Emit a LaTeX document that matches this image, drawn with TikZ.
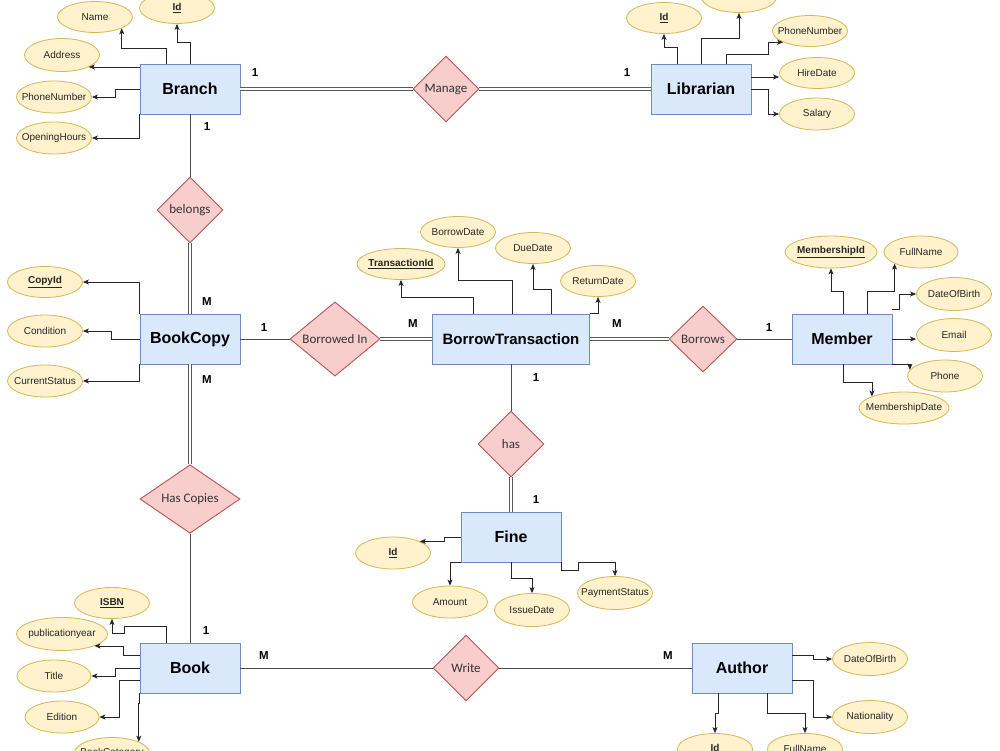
\documentclass[tikz,border=0pt]{standalone}
\usepackage{fontspec}
\setmainfont{Liberation Sans}
\newfontfamily\calfont{Carlito}
\usetikzlibrary{shapes.geometric,arrows.meta}
\definecolor{entfill}{HTML}{DAE8FC}
\definecolor{entdraw}{HTML}{6C8EBF}
\definecolor{relfill}{HTML}{F8CECC}
\definecolor{reldraw}{HTML}{B85450}
\definecolor{attfill}{HTML}{FFF2CC}
\definecolor{attdraw}{HTML}{D6B656}
\tikzset{
  entity/.style={rectangle, draw=entdraw, fill=entfill, line width=0.9pt, inner sep=0pt,
    minimum width=100pt, minimum height=50pt, font=\fontsize{16}{19}\selectfont\bfseries},
  rel/.style={diamond, draw=reldraw, fill=relfill, line width=0.9pt, inner sep=0pt,
    minimum width=66pt, minimum height=66pt, text=black!80, font=\calfont\fontsize{13}{15}\selectfont},
  attr/.style={ellipse, draw=attdraw, fill=attfill, line width=0.8pt, inner sep=0pt,
    minimum width=75pt, minimum height=31pt},
  attrtext/.style={text=black!85, inner sep=0pt, font=\fontsize{10}{12}\selectfont},
  keytext/.style={text=black!85, inner sep=0pt, font=\fontsize{10}{12}\selectfont\bfseries},
  card/.style={inner sep=0pt, font=\fontsize{11.5}{13}\selectfont\bfseries},
  single/.style={draw=black!70, line width=0.8pt},
  dbl/.style={draw=black!65, line width=0.8pt, double=white, double distance=2.2pt},
  arr/.style={draw=black!85, line width=0.8pt, -{Stealth[length=6pt,width=5pt,inset=1.5pt]}},
}
\begin{document}
\begin{tikzpicture}[x=1pt,y=-1pt]
\useasboundingbox (0,0) rectangle (1000,750);
\fill[white] (0,0) rectangle (1000,750);

% ---------- entities ----------
\node[entity] (branch) at (190,89) {Branch};
\node[entity] (lib) at (701,89) {Librarian};
\node[entity] (bc) at (190,339) {BookCopy};
\node[entity, minimum width=157pt, font=\fontsize{15}{18}\selectfont\bfseries] (bt) at (511,339) {BorrowTransaction};
\node[entity] (mem) at (842,339) {Member};
\node[entity] (fine) at (511,537) {Fine};
\node[entity] (book) at (190,668) {Book};
\node[entity] (author) at (742,668) {Author};

% ---------- relationships ----------
\node[rel] (manage) at (446,89) {Manage};
\node[rel] (belongs) at (190,210) {belongs};
\node[rel, minimum width=90pt] (borrowedin) at (335,339) {Borrowed In};
\node[rel, minimum width=68pt] (borrows) at (703,339) {Borrows};
\node[rel] (has) at (511,444) {has};
\node[rel, minimum width=100pt] (hascopies) at (190,499) {Has Copies};
\node[rel] (write) at (466,668) {Write};

% ---------- relationship lines ----------
\draw[dbl] (branch.east) -- (manage.west);
\draw[dbl] (manage.east) -- (lib.west);
\draw[single] (branch.south) -- (belongs.north);
\draw[dbl] (belongs.south) -- (bc.north);
\draw[single] (bc.east) -- (borrowedin.west);
\draw[dbl] (borrowedin.east) -- (bt.west);
\draw[dbl] (bt.east) -- (borrows.west);
\draw[single] (borrows.east) -- (mem.west);
\draw[single] (bt.south) -- (has.north);
\draw[dbl] (has.south) -- (fine.north);
\draw[dbl] (bc.south) -- (hascopies.north);
\draw[single] (hascopies.south) -- (book.north);
\draw[single] (book.east) -- (write.west);
\draw[single] (write.east) -- (author.west);

% ---------- cardinalities ----------
\node[card] (c1) at (255,73) {1};
\node[card] (c2) at (627,73) {1};
\node[card] (c3) at (207,127) {1};
\node[card] (c4) at (207,302) {M};
\node[card] (c5) at (207,380) {M};
\node[card] (c6) at (264,328) {1};
\node[card] (c7) at (413,324) {M};
\node[card] (c8) at (617,324) {M};
\node[card] (c9) at (769,328) {1};
\node[card] (c10) at (536,378) {1};
\node[card] (c11) at (536,500) {1};
\node[card] (c12) at (206,631) {1};
\node[card] (c13) at (264,656) {M};
\node[card] (c14) at (668,656) {M};

% ---------- Branch attributes ----------
\node[attr, label={[attrtext]center:Name}] (bName) at (95,17) {};
\node[attr, label={[keytext]center:\underline{Id}}] (bId) at (177,8) {};
\node[attr, minimum height=33pt, label={[attrtext]center:Address}] (bAddr) at (62,55) {};
\node[attr, minimum height=32pt, label={[attrtext]center:PhoneNumber}] (bPhone) at (54,97) {};
\node[attr, minimum height=32pt, label={[attrtext]center:OpeningHours}] (bOpen) at (54,138) {};
\draw[arr] ([xshift=-24pt]branch.north) -- ++(0,-15) -| (bName.south east);
\draw[arr] (branch.north) -- ++(0,-21) -| (bId.south);
\draw[arr] ([yshift=22pt]branch.west) -- ([yshift=22pt]branch.west -| bAddr.south east);
\draw[arr] (branch.west) -- ++(-24,0) |- (bPhone.east);
\draw[arr] (branch.south west) |- (bOpen.east);

% ---------- Librarian attributes ----------
\node[attr, label={[keytext]center:\underline{Id}}] (lId) at (664,18) {};
\node[attr] (lTop) at (739,-3) {};
\node[attr, label={[attrtext]center:PhoneNumber}] (lPhone) at (810,31) {};
\node[attr, label={[attrtext]center:HireDate}] (lHire) at (817,73) {};
\node[attr, minimum height=32pt, label={[attrtext]center:Salary}] (lSal) at (817,114) {};
\draw[arr] ([xshift=-24pt]lib.north) -- ++(0,-16) -| (lId.south);
\draw[arr] (lib.north) -- ++(0,-25) -| (lTop.south);
\draw[arr] ([xshift=25pt]lib.north) -- ++(0,-9) -- ++(42,0) |- (lPhone.south west);
\draw[arr] ([yshift=12pt]lib.east) -- ([yshift=12pt]lib.east -| lHire.west);
\draw[arr] (lib.east) -- ++(17,0) |- (lSal.west);

% ---------- BookCopy attributes ----------
\node[attr, label={[keytext]center:\underline{CopyId}}] (cCopy) at (45,282) {};
\node[attr, minimum height=32pt, label={[attrtext]center:Condition}] (cCond) at (45,331) {};
\node[attr, minimum height=32pt, label={[attrtext]center:CurrentStatus}] (cStat) at (45,381) {};
\draw[arr] (bc.north west) |- (cCopy.east);
\draw[arr] (bc.west) -- ++(-28,0) |- (cCond.east);
\draw[arr] (bc.south west) |- (cStat.east);

% ---------- BorrowTransaction attributes ----------
\node[attr, minimum width=88pt, label={[keytext]center:\underline{TransactionId}}] (tId) at (401,264) {};
\node[attr, label={[attrtext]center:BorrowDate}] (tBorrow) at (458,232) {};
\node[attr, label={[attrtext]center:DueDate}] (tDue) at (533,248) {};
\node[attr, label={[attrtext]center:ReturnDate}] (tRet) at (598,281) {};
\draw[arr] ([xshift=-38pt]bt.north) -- ++(0,-16) -| (tId.south);
\draw[arr] ([xshift=1pt]bt.north) -- ++(0,-33) -| (tBorrow.south);
\draw[arr] ([xshift=40pt]bt.north) -- ++(0,-24) -| (tDue.south);
\draw[arr] (bt.north east) -| (tRet.south);

% ---------- Member attributes ----------
\node[attr, minimum width=92pt, minimum height=32pt, label={[keytext]center:\underline{MembershipId}}] (mId) at (831,252) {};
\node[attr, minimum width=74pt, minimum height=32pt, label={[attrtext]center:FullName}] (mFull) at (921,252) {};
\node[attr, minimum height=33pt, label={[attrtext]center:DateOfBirth}] (mDob) at (954,294) {};
\node[attr, minimum height=33pt, label={[attrtext]center:Email}] (mEmail) at (954,335) {};
\node[attr, minimum height=32pt, label={[attrtext]center:Phone}] (mPhone) at (945,376) {};
\node[attr, minimum width=90pt, minimum height=32pt, label={[attrtext]center:MembershipDate}] (mDate) at (904,408) {};
\draw[arr] ([xshift=1pt]mem.north) -- ++(0,-22) -| (mId.south);
\draw[arr] ([xshift=25pt]mem.north) -- ++(0,-22) -| (mFull.south west);
\draw[arr] ([yshift=4pt]mem.north east) -- ++(7,0) |- (mDob.west);
\draw[arr] (mem.east) -- (mem.east -| mEmail.west);
\draw[arr] (mem.south east) -| (mPhone.170);
\draw[arr] ([xshift=1pt]mem.south) -- ++(0,18) -| (mDate.north west);

% ---------- Fine attributes ----------
\node[attr, minimum height=32pt, label={[keytext]center:\underline{Id}}] (fId) at (393,553) {};
\node[attr, minimum height=32pt, label={[attrtext]center:Amount}] (fAmt) at (450,602) {};
\node[attr, minimum height=33pt, label={[attrtext]center:IssueDate}] (fIssue) at (532,610) {};
\node[attr, minimum height=33pt, label={[attrtext]center:PaymentStatus}] (fPay) at (615,593) {};
\draw[arr] (fine.west) -- ++(-16,0) |- (fId.north east);
\draw[arr] (fine.south west) -| (fAmt.north);
\draw[arr] (fine.south) -- ++(0,16) -| (fIssue.north);
\draw[arr] (fine.south east) -- ++(0,8) -- ++(17,0) -- ++(0,-8) -| (fPay.north);

% ---------- Book attributes ----------
\node[attr, label={[keytext]center:\underline{ISBN}}] (kIsbn) at (112,603) {};
\node[attr, minimum width=91pt, minimum height=33pt, label={[attrtext]center:publicationyear}] (kPub) at (62,634) {};
\node[attr, minimum width=74pt, minimum height=32pt, label={[attrtext]center:Title}] (kTitle) at (54,676) {};
\node[attr, minimum width=74pt, minimum height=32pt, label={[attrtext]center:Edition}] (kEd) at (62,717) {};
\node[attr, label={[attrtext]center:BookCategory}] (kCat) at (112,753) {};
\draw[arr] ([xshift=-24pt]book.north) -- ++(0,-16) -- ++(-42,0) -- ++(0,7) -| (kIsbn.south);
\draw[arr] ([yshift=13pt]book.west) -- ++(-16,0) |- (kPub.south east);
\draw[arr] (book.west) -- ++(-24,0) |- (kTitle.east);
\draw[arr] ([yshift=-12pt]book.west) -- ++(-20,0) |- (kEd.east);
\draw[arr] (book.south west) -- ++(0,10) -| (kCat.north east);

% ---------- Author attributes ----------
\node[attr, minimum height=33pt, label={[attrtext]center:DateOfBirth}] (aDob) at (870,659) {};
\node[attr, minimum height=33pt, label={[attrtext]center:Nationality}] (aNat) at (870,717) {};
\node[attr, label={[keytext]center:\underline{Id}}] (aId) at (715,749) {};
\node[attr, label={[attrtext]center:FullName}] (aFull) at (805,749) {};
\draw[arr] ([yshift=13pt]author.east) -- ++(21,0) |- (aDob.west);
\draw[arr] ([yshift=-12pt]author.east) -- ++(21,0) |- (aNat.west);
\draw[arr] ([xshift=-24pt]author.south) -- ++(0,20) -| (aId.north);
\draw[arr] ([xshift=25pt]author.south) -- ++(0,20) -| (aFull.north);
\end{tikzpicture}
\end{document}
